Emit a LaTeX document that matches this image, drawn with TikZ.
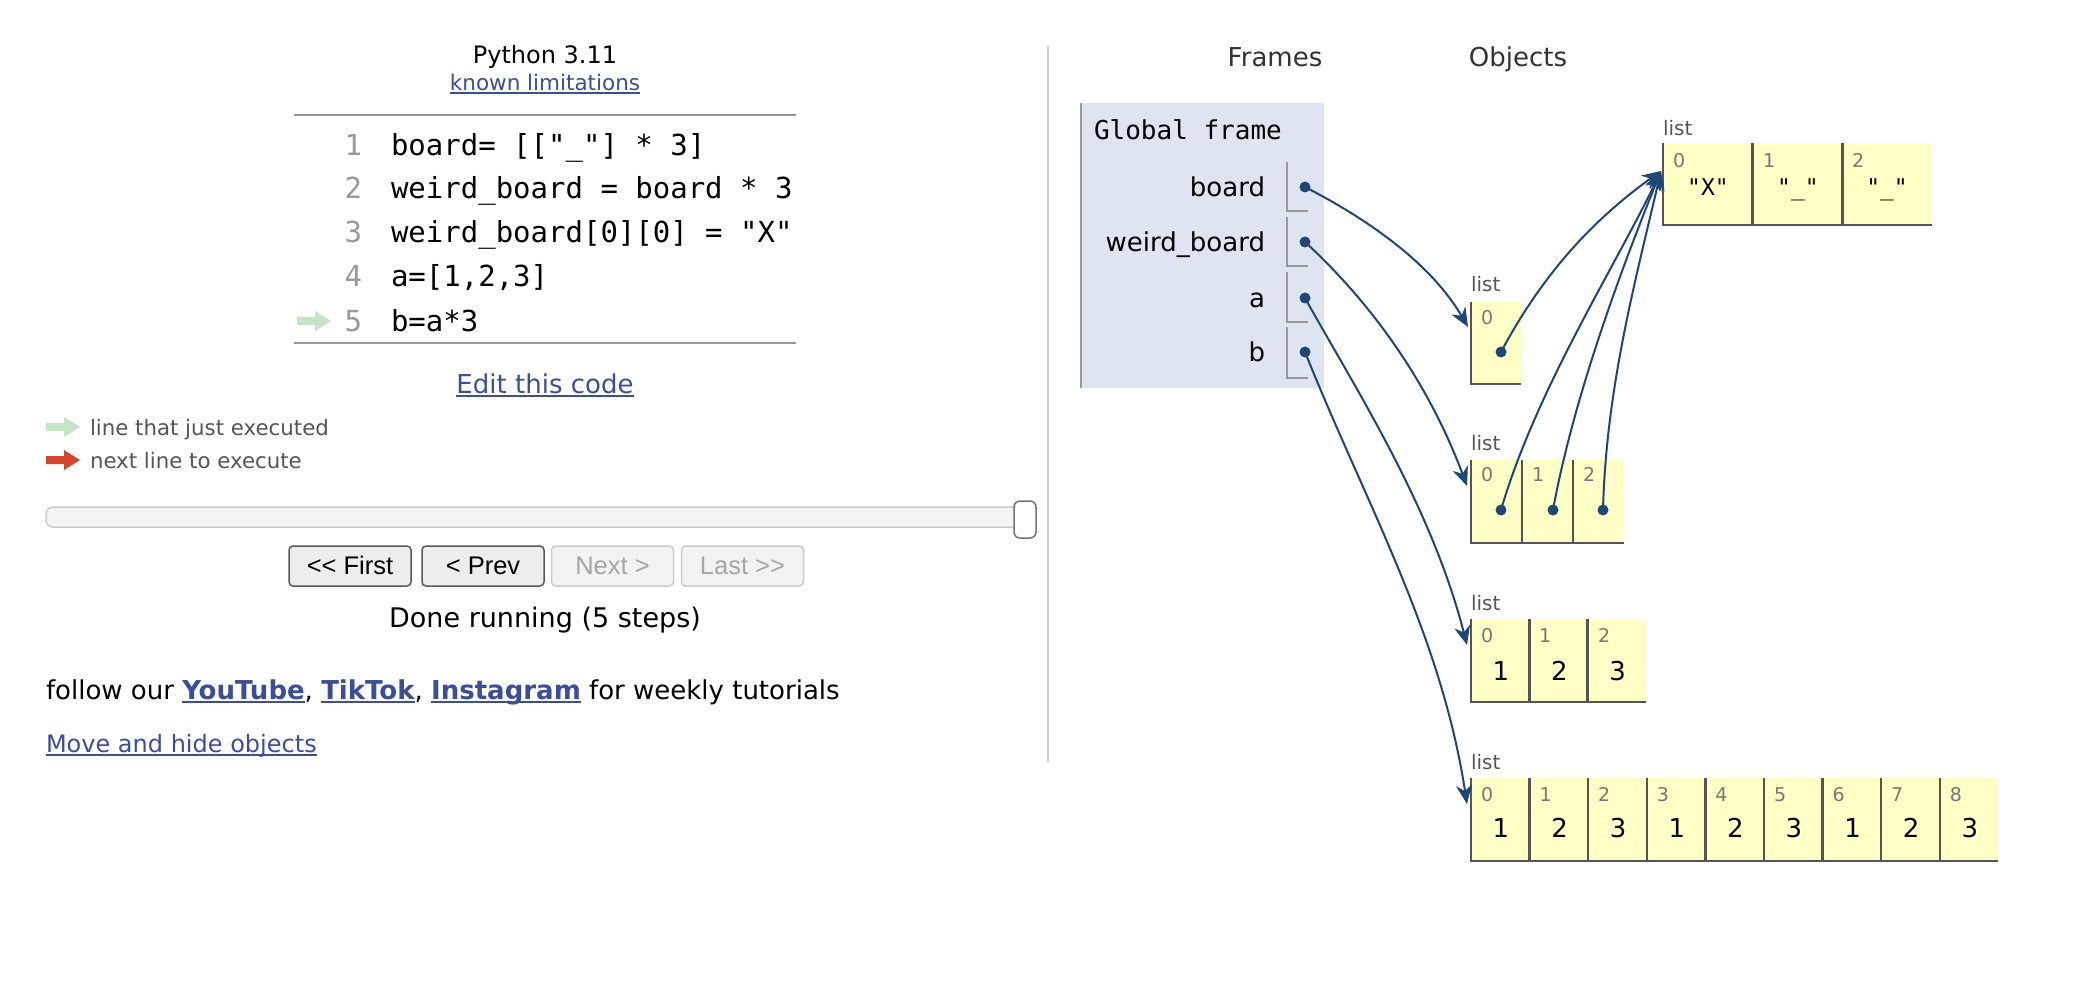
\documentclass[tikz,border=0pt]{standalone}
\usepackage{fontspec}
\setmainfont{DejaVu Sans}
\newfontfamily\codefont{DejaVu Sans Mono}
\newfontfamily\btnfont{Liberation Sans}
\usetikzlibrary{arrows.meta}

\definecolor{ptlink}{HTML}{3B4E96}
\definecolor{ptarrow}{HTML}{1F4675}
\definecolor{framebg}{HTML}{DEE5F1}
\definecolor{heapbg}{HTML}{FFFFC6}
\definecolor{cellline}{HTML}{555555}
\definecolor{hintgreen}{HTML}{C5E3C5}
\definecolor{hintred}{HTML}{D2462E}
\definecolor{uigray}{HTML}{555555}
\definecolor{numgray}{HTML}{999999}
\definecolor{idxgray}{HTML}{777777}

\newcommand\fsz[1]{\fontsize{#1}{#1}\selectfont}
% underlined link text
\newcommand\lnk[1]{\textcolor{ptlink}{\setbox0\hbox{#1}\rlap{\rule[-0.15em]{\wd0}{0.065em}}\box0}}
\newcommand\lnkb[1]{\lnk{\bfseries #1}}

% one heap list: x0, y0, cell width, number of cells, height
\newcommand\heapcells[5]{%
  \fill[heapbg] (#1,#2) rectangle ({#1+#3*#4},{#2+#5});
  \draw[cellline, line width=2.5] (#1,#2) -- (#1,{#2+#5}) -- ({#1+#3*#4},{#2+#5});
  \foreach \k in {1,...,8}{\ifnum\k<#4\relax
    \draw[cellline, line width=2.5] ({#1+#3*\k},#2) -- ({#1+#3*\k},{#2+#5});\fi}
}

\begin{document}
\begin{tikzpicture}[x=1pt,y=-1pt,
  lbl/.style={inner sep=0pt, outer sep=0pt, text height=20pt, text depth=0pt},
  small/.style={text height=15pt},
  code/.style={lbl, anchor=west, font=\codefont\fsz{29}},
  lnum/.style={lbl, anchor=east, font=\codefont\fsz{29}, text=numgray},
  legend/.style={lbl, anchor=west, font=\fsz{21.3}, text=uigray, text height=17pt},
  btn/.style={inner sep=0pt, text height=17pt, text depth=0pt, draw=#1, line width=1.5,
    rounded corners=4, minimum width=122, minimum height=40, font=\btnfont\fsz{25.5}},
  varname/.style={lbl, anchor=east, font=\fsz{26}},
  listlbl/.style={lbl, small, anchor=west, font=\fsz{20}, text=uigray},
  idx/.style={lbl, small, anchor=west, font=\fsz{19}, text=idxgray},
  val/.style={lbl, font=\fsz{26}, text height=16pt},
  sval/.style={lbl, font=\codefont\fsz{23}, text height=16pt},
  ptdot/.style={circle, fill=ptarrow, minimum size=11, inner sep=0pt},
  ref/.style={ptarrow, line width=2, -{Stealth[length=19pt,width=16pt,inset=6pt]}},
  hintarrow/.pic={\fill (-17,-4) -- (1,-4) -- (1,-10) -- (17,0) -- (1,10) -- (1,4) -- (-17,4) -- cycle;}
]
\useasboundingbox (0,0) rectangle (2078,992);
\fill[white] (0,0) rectangle (2078,992);

% ---------- code panel ----------
\node[lbl, font=\fsz{24}] (pyver) at (545,54) {Python 3.11};
\node[lbl, font=\fsz{21.5}, text height=17pt] (limits) at (545,82) {\lnk{known limitations}};
\draw[numgray, line width=2] (294,115) -- (796,115);
\draw[numgray, line width=2] (294,343) -- (796,343);

\node[lnum] (n1) at (362,146) {1};
\node[code] (c1) at (391,146) {board= [["\_"] * 3]};
\node[lnum] (n2) at (362,189) {2};
\node[code] (c2) at (391,189) {weird\_board = board * 3};
\node[lnum] (n3) at (362,233) {3};
\node[code] (c3) at (391,233) {weird\_board[0][0] = "X"};
\node[lnum] (n4) at (362,277) {4};
\node[code] (c4) at (391,277) {a=[1,2,3]};
\node[lnum] (n5) at (362,321) {5};
\node[code] (c5) at (391,321) {b=a*3};
\pic[color=hintgreen] at (314,321) {hintarrow};

\node[lbl, font=\fsz{26}] (edit) at (545,383) {\lnk{Edit this code}};

\pic[color=hintgreen] at (63,427) {hintarrow};
\node[legend] (leg1) at (90,427) {line that just executed};
\pic[color=hintred] at (63,460) {hintarrow};
\node[legend] (leg2) at (90,460) {next line to execute};

% step slider
\draw[fill=black!4, draw=black!20, line width=1.5, rounded corners=7] (46,507) rectangle (1036,527);
\draw[fill=white, draw=black!55, line width=1.5, rounded corners=6] (1014,501) rectangle (1036,538);

\node[btn=black!65, fill=black!7] (first) at (350,566) {<{}< First};
\node[btn=black!65, fill=black!7] (prev) at (483,566) {< Prev};
\node[btn=black!20, fill=black!5, text=black!35] (next) at (612.5,566) {Next >};
\node[btn=black!20, fill=black!5, text=black!35] (last) at (742.5,566) {Last >{}>};

\node[lbl, font=\fsz{27}] (done) at (545,617) {Done running (5 steps)};
\node[lbl, anchor=west, font=\fsz{26}] (follow) at (46,689)
  {follow our \lnkb{YouTube}, \lnkb{TikTok}, \lnkb{Instagram} for weekly tutorials};
\node[lbl, anchor=west, font=\fsz{24}] (movehide) at (46,742) {\lnk{Move and hide objects}};

\draw[black!20, line width=1.5] (1048,46) -- (1048,762);

% ---------- frames ----------
\node[lbl, font=\fsz{26}, text=black!80] (frames) at (1275,57) {Frames};
\node[lbl, font=\fsz{26}, text=black!80] (objects) at (1518,57) {Objects};

\fill[framebg] (1081,103) rectangle (1324,388);
\draw[black!40, line width=2.5] (1081,103) -- (1081,388);
\node[lbl, anchor=west, font=\codefont\fsz{26}] (gframe) at (1094,130) {Global frame};

\node[varname] (vn1) at (1265,187) {board};
\node[varname] (vn2) at (1265,242) {weird\_board};
\node[varname] (vn3) at (1265,298) {a};
\node[varname] (vn4) at (1265,352) {b};
\draw[black!40, line width=2] (1287,162) -- (1287,211) -- (1308,211);
\draw[black!40, line width=2] (1287,217) -- (1287,266) -- (1308,266);
\draw[black!40, line width=2] (1287,272) -- (1287,322) -- (1308,322);
\draw[black!40, line width=2] (1287,327) -- (1287,378) -- (1308,378);
\node[ptdot] (d1) at (1305,187) {};
\node[ptdot] (d2) at (1305,242) {};
\node[ptdot] (d3) at (1305,298) {};
\node[ptdot] (d4) at (1305,352) {};

% ---------- objects ----------
% inner list ["X", "_", "_"]
\node[listlbl] (lbl0) at (1663,128) {list};
\heapcells{1663}{143}{89.7}{3}{82}
\node[idx] at (1673,160) {0};
\node[idx] at (1763,160) {1};
\node[idx] at (1852,160) {2};
\node[sval] at (1708,188) {"X"};
\node[sval] at (1798,188) {"\_"};
\node[sval] at (1887,188) {"\_"};
\coordinate (tip0) at (1661,171);

% board
\node[listlbl] (lbl1) at (1471,284) {list};
\heapcells{1471}{302}{50}{1}{82}
\node[idx] at (1481,317) {0};
\node[ptdot] (e10) at (1501,352) {};
\coordinate (tip1) at (1468,327);

% weird_board
\node[listlbl] (lbl2) at (1471,443) {list};
\heapcells{1471}{460}{51}{3}{83}
\node[idx] at (1481,474) {0};
\node[idx] at (1532,474) {1};
\node[idx] at (1583,474) {2};
\node[ptdot] (e20) at (1501,510) {};
\node[ptdot] (e21) at (1553,510) {};
\node[ptdot] (e22) at (1603,510) {};
\coordinate (tip2) at (1467,486);

% a
\node[listlbl] (lbl3) at (1471,603) {list};
\heapcells{1471}{619}{58.3}{3}{83}
\node[idx] at (1481,635) {0};
\node[idx] at (1539,635) {1};
\node[idx] at (1598,635) {2};
\foreach \v [count=\i from 0] in {1,2,3}
  \node[val] at ({1471+58.3*\i+30},672) {\v};
\coordinate (tip3) at (1467,645);

% b
\node[listlbl] (lbl4) at (1471,762) {list};
\heapcells{1471}{778}{58.6}{9}{83}
\foreach \v [count=\i from 0] in {1,2,3,1,2,3,1,2,3}{
  \node[idx] at ({1471+58.6*\i+10},794) {\i};
  \node[val] at ({1471+58.6*\i+30},829) {\v};
}
\coordinate (tip4) at (1467,804);

% ---------- references ----------
\draw[ref] (d1.center) .. controls (1375,223) and (1433,267) .. (tip1);
\draw[ref] (d2.center) .. controls (1365,297) and (1426,376) .. (tip2);
\draw[ref] (d3.center) .. controls (1355,388) and (1431,505) .. (tip3);
\draw[ref] (d4.center) .. controls (1365,502) and (1441,634) .. (tip4);
\draw[ref] (e10.center) .. controls (1541,277) and (1590,222) .. (tip0);
\draw[ref] (e20.center) .. controls (1536,390) and (1615,267) .. (tip0);
\draw[ref] (e21.center) .. controls (1573,400) and (1620,272) .. (tip0);
\draw[ref] (e22.center) .. controls (1606,390) and (1635,282) .. (tip0);
\end{tikzpicture}
\end{document}
